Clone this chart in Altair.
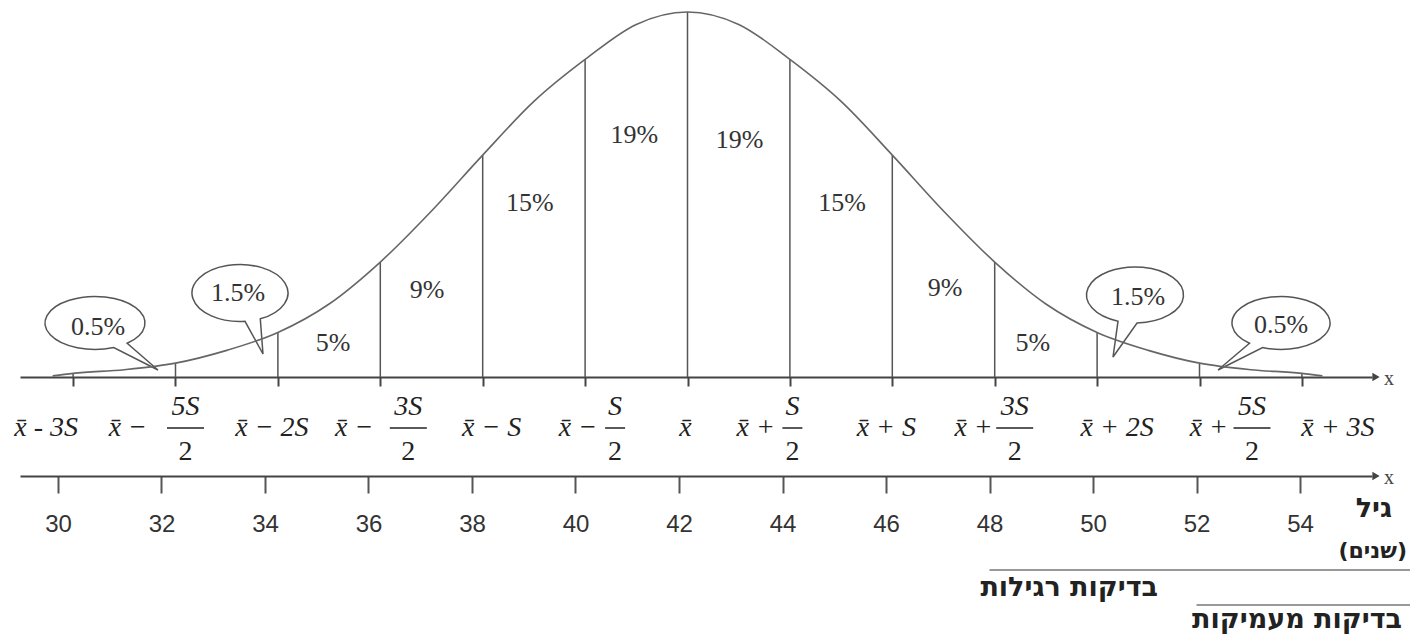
import math
import altair as alt
import pandas as pd

# ---------------- values ----------------
curve_age = [29.6, 30, 31, 32, 33, 34, 35, 36, 37, 38, 39, 40, 41, 42,
             43, 44, 45, 46, 47, 48, 49, 50, 51, 52, 53, 54, 54.4]
curve_density = [0.3, 1, 2, 3.8, 7.3, 12.2, 20, 31.5, 45.5, 60.8, 75.5, 87, 96.6, 100,
                 96.6, 87, 75.5, 60.8, 45.5, 31.5, 20, 12.2, 7.3, 3.8, 2, 1, 0.3]
tick_age = [30, 32, 34, 36, 38, 40, 42, 44, 46, 48, 50, 52, 54]
tick_main = ["x\u0304 - 3S", "x\u0304 \u2212", "x\u0304 \u2212 2S", "x\u0304 \u2212",
             "x\u0304 \u2212 S", "x\u0304 \u2212", "x\u0304", "x\u0304 +", "x\u0304 + S",
             "x\u0304 +", "x\u0304 + 2S", "x\u0304 +", "x\u0304 + 3S"]
tick_numer = ["", "5S", "", "3S", "", "S", "", "S", "", "3S", "", "5S", ""]
tick_denom = ["", "2", "", "2", "", "2", "", "2", "", "2", "", "2", ""]
interval_pct = [0.5, 1.5, 5, 9, 15, 19, 19, 15, 9, 5, 1.5, 0.5]
age_ticks = [30, 32, 34, 36, 38, 40, 42, 44, 46, 48, 50, 52, 54]
regular_from = 48
deep_from = 52
txt_age = "גיל"
txt_years = "(שנים)"
txt_regular = "בדיקות רגילות"
txt_deep = "בדיקות מעמיקות"

# ---------------- layout / style ----------------
W, H = 1404, 626
X_RANGE = [12, 1364]
UP_DOMAIN = [28.963, 55.369]
LOW_DOMAIN = [29.266, 55.391]
PPY = (X_RANGE[1] - X_RANGE[0]) / (UP_DOMAIN[1] - UP_DOMAIN[0])
Y_DOMAIN = [-70.41, 101.10]
BASE_Y, LOW_Y = 369, 468
LABEL_Y, NUM_Y, DEN_Y = 420, 399, 444
INK = "#444"
SERIF = "Liberation Serif"
MATH = "Liberation Serif"
SANS = "Liberation Sans"
HEB = "DejaVu Sans"

main_dx = [-27, -28.5, -6, -7, 9, 12, -2, -15, -6, -2, 20, 28.5, 36]
frac_dx = [0, 10, 0, 28, 0, 30, 0, 2.5, 0, 20, 0, 52.5, 0]
pct_dx = [0, 0, 4, -4.5, -4, -2, 1, 1, 1.5, -13, 0, 0]
pct_y = [0, 0, 335, 282, 195, 127, 132, 195, 280, 335, 0, 0]
# bubbles: interval index, dx of centre, centre y, rx, ry, tail angles, tip offset, text offset
bubbles = [
    (0, -29.3, 315, 50, 26.5, 50, 68, (63, 47), (3, 4)),
    (1, 13.3, 285, 48, 28.5, 65, 84, (23, 61), (-2, 0)),
    (10, -13.3, 287, 48.5, 28, 87.6, 110.5, (-22, 62), (3, 2)),
    (11, 30.3, 315, 49, 26.5, 112, 130, (-63, 47), (0, 2)),
]
S_UNIT = 50.0

up_x = alt.Scale(domain=UP_DOMAIN, range=X_RANGE, nice=False, zero=False)
low_x = alt.Scale(domain=LOW_DOMAIN, range=X_RANGE, nice=False, zero=False)
y_sc = alt.Scale(domain=Y_DOMAIN, nice=False, zero=False)

dens_at = dict(zip(curve_age, curve_density))

curve_df = pd.DataFrame({"age": curve_age, "density": curve_density})
tick_df = pd.DataFrame({
    "age": tick_age,
    "density": [dens_at[a] for a in tick_age],
    "main": tick_main,
    "numer": tick_numer,
    "denom": tick_denom,
})
tick_df["main_x"] = tick_df["age"] + pd.Series(main_dx) / PPY
tick_df["frac_x"] = tick_df["age"] + pd.Series(frac_dx) / PPY
bar_w = [37 if len(n) > 1 else 20 for n in tick_numer]
tick_df["bar_x1"] = tick_df["frac_x"] - pd.Series(bar_w) / 2 / PPY
tick_df["bar_x2"] = tick_df["frac_x"] + pd.Series(bar_w) / 2 / PPY

mids = [(tick_age[i] + tick_age[i + 1]) / 2 for i in range(len(interval_pct))]
pct_df = pd.DataFrame({
    "mid": mids,
    "pct": interval_pct,
    "label": [f"{v:g}%" for v in interval_pct],
    "lx": [m + d / PPY for m, d in zip(mids, pct_dx)],
    "ly": pct_y,
})
inner_df = pct_df[(pct_df["pct"] >= 5)]

layers = []

# speech bubbles
def bubble_path(rx, ry, a1, a2, tip):
    p1 = (rx * math.cos(math.radians(a1)), ry * math.sin(math.radians(a1)))
    p2 = (rx * math.cos(math.radians(a2)), ry * math.sin(math.radians(a2)))
    s = S_UNIT
    return (f"M {p1[0]/s:.4f} {p1[1]/s:.4f} A {rx/s:.4f} {ry/s:.4f} 0 1 0 "
            f"{p2[0]/s:.4f} {p2[1]/s:.4f} L {tip[0]/s:.4f} {tip[1]/s:.4f} Z")

for idx, dx, cy, rx, ry, a1, a2, tip, toff in bubbles:
    bdf = pd.DataFrame({"bx": [mids[idx] + dx / PPY], "tx": [mids[idx] + (dx + toff[0]) / PPY],
                        "label": [pct_df["label"][idx]]})
    layers.append(
        alt.Chart(bdf).mark_point(shape=bubble_path(rx, ry, a1, a2, tip), size=(2 * S_UNIT) ** 2,
                                  filled=True, fill="white", stroke="#555", strokeWidth=1.5, opacity=1)
        .encode(x=alt.X("bx:Q", scale=up_x, axis=None), y=alt.value(cy))
    )
    layers.append(
        alt.Chart(bdf).mark_text(font=SERIF, fontSize=26, color="#333",
                                 align="center", baseline="middle")
        .encode(x=alt.X("tx:Q", scale=up_x, axis=None), y=alt.value(cy + toff[1]), text="label:N")
    )

# vertical lines + upper axis
layers.append(
    alt.Chart(tick_df).mark_rule(color="#555", strokeWidth=1.5).encode(
        x=alt.X("age:Q", scale=up_x,
                axis=alt.Axis(values=tick_age, orient="bottom", labels=False, tickSize=9,
                              tickColor=INK, tickWidth=2, domainColor=INK, domainWidth=2,
                              grid=False, title=None, offset=BASE_Y - H)),
        y=alt.Y("density:Q", scale=y_sc, axis=None),
        y2=alt.Y2Datum(0),
    )
)

# the curve
layers.append(
    alt.Chart(curve_df).mark_line(color="#666", strokeWidth=1.6, interpolate="monotone").encode(
        x=alt.X("age:Q", scale=up_x, axis=None),
        y=alt.Y("density:Q", scale=y_sc, axis=None),
    )
)

# percentages inside the curve
layers.append(
    alt.Chart(inner_df).mark_text(font=SERIF, fontSize=26, color="#333",
                                  align="center", baseline="middle").encode(
        x=alt.X("lx:Q", scale=up_x, axis=None),
        y=alt.Y("ly:Q", scale=None, axis=None),
        text="label:N",
    )
)

# symbolic tick labels
simple_df = tick_df[tick_df["numer"] == ""]
frac_df = tick_df[tick_df["numer"] != ""]
math_font = dict(font=MATH, fontSize=28, color="#222", baseline="middle")
layers.append(
    alt.Chart(simple_df).mark_text(align="center", fontStyle="italic", **math_font).encode(
        x=alt.X("main_x:Q", scale=up_x, axis=None), y=alt.value(LABEL_Y), text="main:N")
)
layers.append(
    alt.Chart(frac_df).mark_text(align="right", fontStyle="italic", **math_font).encode(
        x=alt.X("main_x:Q", scale=up_x, axis=None), y=alt.value(LABEL_Y), text="main:N")
)
layers.append(
    alt.Chart(frac_df).mark_text(align="center", fontStyle="italic", **math_font).encode(
        x=alt.X("frac_x:Q", scale=up_x, axis=None), y=alt.value(NUM_Y), text="numer:N")
)
layers.append(
    alt.Chart(frac_df).mark_text(align="center", **math_font).encode(
        x=alt.X("frac_x:Q", scale=up_x, axis=None), y=alt.value(DEN_Y), text="denom:N")
)
layers.append(
    alt.Chart(frac_df).mark_rule(color="#222", strokeWidth=1.5).encode(
        x=alt.X("bar_x1:Q", scale=up_x, axis=None), x2="bar_x2:Q", y=alt.value(LABEL_Y))
)

# lower (age) axis
age_df = pd.DataFrame({"age": age_ticks})
layers.append(
    alt.Chart(age_df).mark_point(opacity=0).encode(
        x=alt.X("age:Q", scale=low_x,
                axis=alt.Axis(values=age_ticks, orient="bottom", tickSize=17, tickColor="#555",
                              tickWidth=2, domainColor=INK, domainWidth=2, grid=False, title=None,
                              labelFont=SANS, labelFontSize=24, labelColor="#333",
                              labelPadding=19, labelAngle=0, format="d", labelFlush=False,
                              offset=LOW_Y - H)),
        y=alt.value(LOW_Y),
    )
)

# arrow heads and x letters
arrow_df = pd.DataFrame({"px": [1368, 1368], "py": [BASE_Y, LOW_Y], "t": ["x", "x"]})
layers.append(
    alt.Chart(arrow_df).mark_point(shape="triangle-right", filled=True, color=INK, size=70, opacity=1)
    .encode(x=alt.X("px:Q", scale=None, axis=None), y=alt.Y("py:Q", scale=None, axis=None))
)
layers.append(
    alt.Chart(arrow_df).mark_text(font=SERIF, fontSize=20, color=INK, align="left",
                                  baseline="middle", dx=8, dy=2)
    .encode(x=alt.X("px:Q", scale=None, axis=None), y=alt.Y("py:Q", scale=None, axis=None), text="t:N")
)

# screening ranges
range_df = pd.DataFrame({"start": [regular_from, deep_from], "py": [562, 597]})
layers.append(
    alt.Chart(range_df).mark_rule(color="#999", strokeWidth=2).encode(
        x=alt.X("start:Q", scale=low_x, axis=None), x2=alt.value(1402),
        y=alt.Y("py:Q", scale=None, axis=None))
)
heb_df = pd.DataFrame({
    "t": [txt_age, txt_regular, txt_deep],
    "px": [1384, 1150, 1394],
    "py": [501, 580, 612],
})
layers.append(
    alt.Chart(heb_df).mark_text(font=HEB, fontSize=27, fontWeight="bold", color="#222",
                                align="right", baseline="middle")
    .encode(x=alt.X("px:Q", scale=None, axis=None), y=alt.Y("py:Q", scale=None, axis=None), text="t:N")
)
years_df = pd.DataFrame({"t": [txt_years], "px": [1399], "py": [543]})
layers.append(
    alt.Chart(years_df).mark_text(font=HEB, fontSize=22, fontWeight="bold", color="#222",
                                  align="right", baseline="middle")
    .encode(x=alt.X("px:Q", scale=None, axis=None), y=alt.Y("py:Q", scale=None, axis=None), text="t:N")
)

chart = (
    alt.layer(*layers)
    .resolve_scale(x="independent")
    .properties(width=W, height=H, autosize=alt.AutoSizeParams(type="none"), padding=0,
                background="white")
    .configure_view(stroke=None)
)

chart.save("out.html", embed_options={"renderer": "svg", "actions": False})
